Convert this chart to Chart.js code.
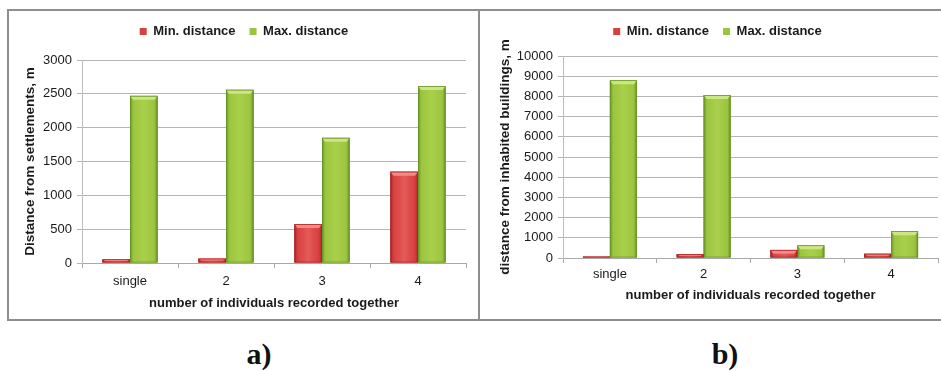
<!DOCTYPE html>
<html>
<head>
<meta charset="utf-8">
<script src="https://cdn.jsdelivr.net/npm/chart.js@4"></script>
<style>
  html, body { margin: 0; padding: 0; background: #fff; }
  body { width: 941px; height: 371px; position: relative; overflow: hidden; font-family: "Liberation Sans", Arial, sans-serif; }
  .frame { position: absolute; left: 7px; top: 9px; width: 932px; height: 308px; border: 2px solid #8e8e8e; border-right: none; }
  .divider { position: absolute; left: 478px; top: 9px; width: 2px; height: 310px; background: #8e8e8e; }
  .panel { position: absolute; top: 11px; height: 306px; }
  #p1 { left: 9px; width: 469px; }
  #p2 { left: 480px; width: 460px; }
  .cap { position: absolute; top: 337px; font-family: "Liberation Serif", "Times New Roman", serif; font-weight: bold; font-size: 30px; color: #111; width: 80px; text-align: center; }
</style>
</head>
<body>
<div class="frame"></div>
<div class="divider"></div>
<div class="panel" id="p1"><canvas id="c1"></canvas></div>
<div class="panel" id="p2"><canvas id="c2"></canvas></div>
<div class="cap" style="left:219px">a)</div>
<div class="cap" style="left:685px">b)</div>
<script>
// Group sizes on the x axis
const groups = ["single", "2", "3", "4"];
const seriesNames = ["Min. distance", "Max. distance"];

// (a) distance from settlements, m
const settleMin = [55, 65, 575, 1350];
const settleMax = [2470, 2560, 1850, 2615];

// (b) distance from inhabited buildings, m
const buildMin = [70, 190, 400, 210];
const buildMax = [8800, 8070, 630, 1330];

const xTitle = "number of individuals recorded together";

// Fill colours plus the shades used for the bevelled look
const palette = [
  { base: "#d84040", edge: "#a82727", mid: "#e45a58", top: "#f48a86" },
  { base: "#9cc53f", edge: "#6a9228", mid: "#a9d04b", top: "#cbe784" }
];

// Repaint each bar with a soft horizontal shading and a light top strip
const bevel = {
  id: "bevel",
  afterDatasetDraw(chart, args) {
    const meta = args.meta;
    const pal = palette[args.index];
    const ctx = chart.ctx;
    ctx.save();
    meta.data.forEach(bar => {
      const p = bar.getProps(["x", "y", "base", "width"], true);
      const l = p.x - p.width / 2, r = p.x + p.width / 2;
      const t = Math.min(p.y, p.base), b = Math.max(p.y, p.base);
      const h = b - t;
      if (h <= 0) return;
      const g = ctx.createLinearGradient(l, 0, r, 0);
      g.addColorStop(0, pal.edge);
      g.addColorStop(0.12, pal.base);
      g.addColorStop(0.5, pal.mid);
      g.addColorStop(0.88, pal.base);
      g.addColorStop(1, pal.edge);
      ctx.fillStyle = g;
      ctx.fillRect(l, t, r - l, h);
      const s = Math.min(4, h * 0.5);
      ctx.fillStyle = pal.top;
      ctx.beginPath();
      ctx.moveTo(l, t);
      ctx.lineTo(r, t);
      ctx.lineTo(r - 3, t + s);
      ctx.lineTo(l + 3, t + s);
      ctx.closePath();
      ctx.fill();
      ctx.strokeStyle = pal.edge;
      ctx.lineWidth = 0.8;
      ctx.strokeRect(l + 0.4, t + 0.4, r - l - 0.8, h - 0.8);
    });
    ctx.restore();
  }
};

// Leaves some extra room between the legend row and the plot area
const legendGap = {
  id: "legendGap",
  afterInit(chart, _args, opts) {
    const lg = chart.legend;
    if (!lg) return;
    const fit = lg.fit;
    lg.fit = function () {
      fit.call(this);
      this.height += opts.extra || 0;
    };
  }
};

function makeChart(id, minVals, maxVals, yMax, yStep, yTitle, geo) {
  const fontFam = "'Liberation Sans', Arial, sans-serif";
  return new Chart(document.getElementById(id), {
    type: "bar",
    data: {
      labels: groups,
      datasets: [
        { label: seriesNames[0], data: minVals, backgroundColor: palette[0].base, borderWidth: 0 },
        { label: seriesNames[1], data: maxVals, backgroundColor: palette[1].base, borderWidth: 0 }
      ]
    },
    options: {
      responsive: true,
      maintainAspectRatio: false,
      animation: false,
      events: [],
      datasets: { bar: { categoryPercentage: 0.575, barPercentage: 1.0 } },
      layout: { padding: { left: geo.padL, right: geo.padR, top: geo.padT, bottom: geo.padB } },
      plugins: {
        tooltip: { enabled: false },
        legendGap: { extra: geo.legExtra },
        legend: {
          position: "top",
          labels: {
            boxWidth: 7, boxHeight: 7, padding: geo.legPad,
            color: "#1a1a1a",
            font: { family: fontFam, size: 13, weight: "bold" }
          }
        }
      },
      scales: {
        x: {
          offset: true,
          grid: { display: true, offset: true, drawOnChartArea: false, drawTicks: true, tickLength: 5, color: "#a8a8a8" },
          border: { display: true, color: "#a8a8a8", width: 1 },
          ticks: { color: "#1a1a1a", padding: geo.xTickPad, font: { family: fontFam, size: 13 } },
          title: { display: true, text: xTitle, color: "#1a1a1a", padding: { top: geo.xTitlePad, bottom: 0 }, font: { family: fontFam, size: 13, weight: "bold" } },
          afterFit(s) { s.height = geo.xH; }
        },
        y: {
          min: 0, max: yMax,
          grid: { color: "#b4b4b4", lineWidth: 1, drawTicks: true, tickLength: 5 },
          border: { display: true, color: "#bdbdbd", width: 1 },
          ticks: { stepSize: yStep, color: "#1a1a1a", padding: 5, font: { family: fontFam, size: 13 }, callback: v => String(v) },
          title: { display: true, text: yTitle, color: "#1a1a1a", padding: { top: 0, bottom: 0 }, font: { family: fontFam, size: 13.5, weight: "bold" } },
          afterFit(s) { s.width = geo.yW; }
        }
      }
    },
    plugins: [bevel, legendGap]
  });
}

makeChart("c1", settleMin, settleMax, 3000, 500, "Distance from settlements, m",
  { padL: 13, padR: 12, padT: 0, padB: 6, legPad: 14, legExtra: 12, xTickPad: 6, xTitlePad: 4, xH: 48, yW: 60 });
makeChart("c2", buildMin, buildMax, 10000, 1000, "distance from inhabited buildings, m",
  { padL: 17, padR: 2, padT: 0, padB: 14, legPad: 14, legExtra: 8, xTickPad: 4, xTitlePad: 0, xH: 45, yW: 66 });
</script>
</body>
</html>
